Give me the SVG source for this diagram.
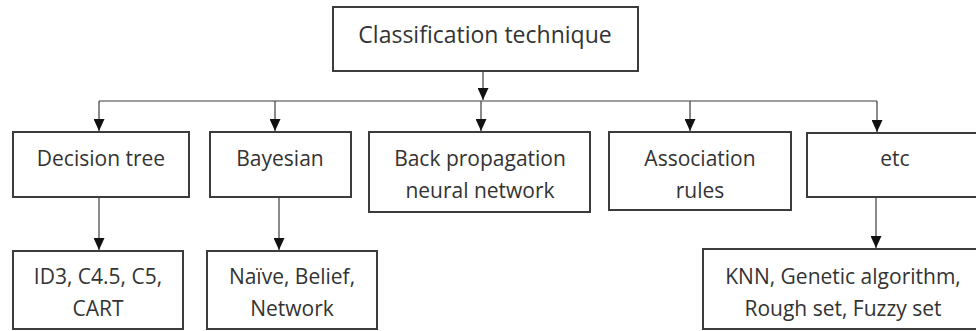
<svg xmlns="http://www.w3.org/2000/svg" width="976" height="331" viewBox="0 0 976 331">
  <style>
    .box { fill: #ffffff; stroke: #3c3c3c; stroke-width: 2; }
    .lbl { font-family: "Open Sans", "Liberation Sans", sans-serif; font-size: 21px; fill: #333333; text-anchor: middle; }
    .title { font-size: 23px; }
    .wire { fill: none; stroke: #3c3c3c; stroke-width: 1.2; }
    .arrow { fill: none; stroke: #3c3c3c; stroke-width: 1.2; marker-end: url(#head); }
  </style>
  <defs>
    <marker id="head" viewBox="0 0 12 11" refX="12" refY="5.5" markerWidth="12" markerHeight="11" markerUnits="userSpaceOnUse" orient="auto">
      <path d="M0,0 L12,5.5 L0,11 Z" fill="#111111"/>
    </marker>
  </defs>
  <rect width="976" height="331" fill="#ffffff"/>

  <g id="connectors">
    <path class="arrow" d="M483,71 V100"/>
    <path class="wire" d="M99,101 H877"/>
    <path class="arrow" d="M99,101 V131"/>
    <path class="arrow" d="M275,101 V131"/>
    <path class="arrow" d="M481,101 V131"/>
    <path class="arrow" d="M690,101 V131"/>
    <path class="arrow" d="M877,101 V132"/>
    <path class="arrow" d="M99,197 V250"/>
    <path class="arrow" d="M279,197 V250"/>
    <path class="arrow" d="M876,197 V248"/>
  </g>

  <g id="classification-technique">
    <rect class="box" x="333" y="7" width="305" height="64"/>
    <text class="lbl title" x="485" y="43">Classification technique</text>
  </g>

  <g id="decision-tree">
    <rect class="box" x="13" y="132" width="176" height="65"/>
    <text class="lbl" x="101" y="166">Decision tree</text>
  </g>

  <g id="bayesian">
    <rect class="box" x="210" y="132" width="141" height="65"/>
    <text class="lbl" x="280" y="166">Bayesian</text>
  </g>

  <g id="back-propagation">
    <rect class="box" x="369" y="132" width="221" height="80"/>
    <text class="lbl" x="480" y="166">Back propagation</text>
    <text class="lbl" x="480" y="198">neural network</text>
  </g>

  <g id="association-rules">
    <rect class="box" x="609" y="132" width="182" height="78"/>
    <text class="lbl" x="700" y="166">Association</text>
    <text class="lbl" x="700" y="198">rules</text>
  </g>

  <g id="etc">
    <rect class="box" x="807" y="133" width="176" height="64"/>
    <text class="lbl" x="895" y="166">etc</text>
  </g>

  <g id="decision-tree-algorithms">
    <rect class="box" x="13" y="251" width="170" height="78"/>
    <text class="lbl" x="98" y="284">ID3, C4.5, C5,</text>
    <text class="lbl" x="98" y="316">CART</text>
  </g>

  <g id="bayesian-variants">
    <rect class="box" x="207" y="251" width="170" height="78"/>
    <text class="lbl" x="292" y="284">Naïve, Belief,</text>
    <text class="lbl" x="292" y="316">Network</text>
  </g>

  <g id="other-methods">
    <rect class="box" x="703" y="249" width="281" height="80"/>
    <text class="lbl" x="843" y="284">KNN, Genetic algorithm,</text>
    <text class="lbl" x="843" y="316">Rough set, Fuzzy set</text>
  </g>
</svg>
